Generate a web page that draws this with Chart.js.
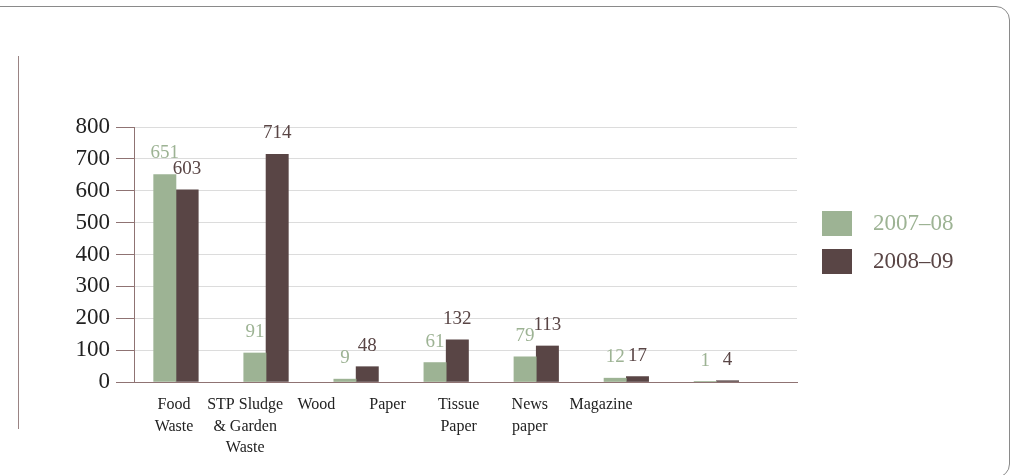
<!DOCTYPE html>
<html><head><meta charset="utf-8">
<script src="https://cdn.jsdelivr.net/npm/chart.js@4/dist/chart.umd.min.js"></script>
<style>
html,body{margin:0;padding:0;background:#fff;overflow:hidden;}
#wrap{position:relative;width:1013px;height:475px;overflow:hidden;}
#frame{position:absolute;left:-20px;top:6px;width:1030px;height:472px;border:1.5px solid #8a8a8a;border-radius:14px;box-sizing:border-box;}
#vline{position:absolute;left:18px;top:56px;width:1px;height:373px;background:#9a8484;}
#chart{position:absolute;left:0;top:0;}
.leg{position:absolute;font-family:'Liberation Serif',serif;font-size:23px;line-height:1;}
.sw{position:absolute;width:30px;height:25px;}
</style></head>
<body>
<div id="wrap">
  <div id="frame"></div>
  <div id="vline"></div>
  <canvas id="chart" width="1013" height="475"></canvas>
  <div id="legend"></div>
</div>
<script>
const categories = [['Food','Waste'],['STP Sludge','& Garden','Waste'],['Wood'],['Paper'],['Tissue','Paper'],['News','paper'],['Magazine']];
const series2007 = [651, 91, 9, 61, 79, 12, 1];
const series2008 = [603, 714, 48, 132, 113, 17, 4];
const seriesNames = ['2007–08', '2008–09'];
const yTickStep = 100;
const yMax = 800;

const GREEN = '#9db394';
const BROWN = '#594545';
const AXIS = '#8f7373';

// legend (HTML)
const legendEl = document.getElementById('legend');
[[seriesNames[0], GREEN, 211], [seriesNames[1], BROWN, 249]].forEach(([name, col, top]) => {
  const sw = document.createElement('div');
  sw.className = 'sw'; sw.style.left = '822px'; sw.style.top = top + 'px'; sw.style.background = col;
  legendEl.appendChild(sw);
  const t = document.createElement('div');
  t.className = 'leg'; t.textContent = name; t.style.color = col;
  t.style.left = '873px'; t.style.top = (top + 0) + 'px';
  legendEl.appendChild(t);
});

const valueLabels = {
  id: 'valueLabels',
  afterDatasetsDraw(chart) {
    const ctx = chart.ctx;
    ctx.save();
    ctx.font = '19px "Liberation Serif", serif';
    ctx.textAlign = 'center';
    ctx.textBaseline = 'middle';
    chart.data.datasets.forEach((ds, di) => {
      const meta = chart.getDatasetMeta(di);
      ctx.fillStyle = ds.labelColor;
      meta.data.forEach((bar, i) => {
        ctx.fillText(String(ds.data[i].y), bar.x, bar.y - 21);
      });
    });
    ctx.restore();
  }
};

new Chart(document.getElementById('chart'), {
  type: 'bar',
  data: {
    datasets: [
      { label: seriesNames[0], data: series2007.map((v, i) => ({ x: i, y: v })), backgroundColor: GREEN, labelColor: GREEN, barThickness: 22.3, xAxisID: 'x', yAxisID: 'y' },
      { label: seriesNames[1], data: series2008.map((v, i) => ({ x: i, y: v })), backgroundColor: BROWN, labelColor: BROWN, barThickness: 22.3, xAxisID: 'x', yAxisID: 'y' }
    ]
  },
  options: {
    responsive: false,
    animation: false,
    devicePixelRatio: 1,
    layout: { padding: { left: 0, right: 216, top: 127, bottom: 0 } },
    plugins: { legend: { display: false }, tooltip: { enabled: false } },
    scales: {
      x: { type: 'linear', display: false, min: -0.466, max: 6.895, offset: false,
           ticks: { stepSize: 1, includeBounds: false } },
      xl: { type: 'linear', position: 'bottom', min: -0.562, max: 8.754, offset: false,
            grid: { display: false, drawTicks: false },
            border: { display: true, color: AXIS, width: 1 },
            ticks: { stepSize: 1, includeBounds: false, autoSkip: false, maxRotation: 0, minRotation: 0, padding: 12,
                     color: '#222', font: { family: 'Liberation Serif', size: 16, lineHeight: 1.35 },
                     callback: (v) => (Number.isInteger(v) && categories[v]) ? categories[v] : '' },
            afterFit: (s) => { s.height = 93; } },
      y: { type: 'linear', min: 0, max: yMax,
           ticks: { stepSize: yTickStep, padding: 6, color: '#222', font: { family: 'Liberation Serif', size: 23 } },
           grid: { color: '#dcdcdc', tickColor: AXIS, tickLength: 18 },
           border: { color: AXIS, width: 1 },
           afterFit: (s) => { s.width = 134; } }
    }
  },
  plugins: [valueLabels]
});
</script>
</body></html>
